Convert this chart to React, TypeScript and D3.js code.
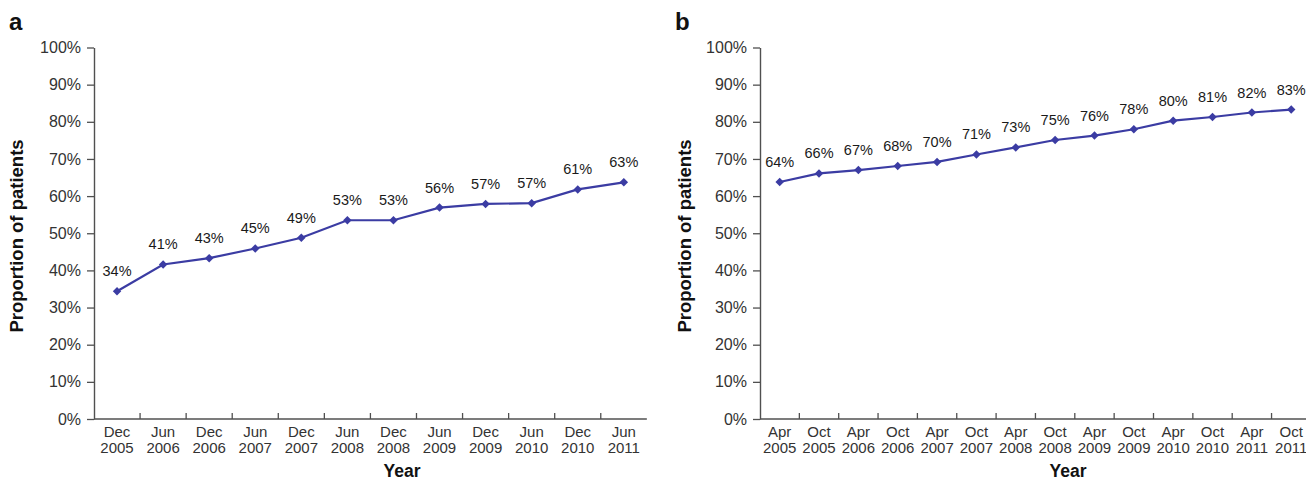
import React, { useEffect, useRef } from 'react';
import * as d3 from 'd3';

// panel a
const catsA = ['Dec 2005', 'Jun 2006', 'Dec 2006', 'Jun 2007', 'Dec 2007', 'Jun 2008',
  'Dec 2008', 'Jun 2009', 'Dec 2009', 'Jun 2010', 'Dec 2010', 'Jun 2011'];
const valsA = [34.4, 41.6, 43.3, 45.9, 48.8, 53.5, 53.5, 56.9, 57.9, 58.1, 61.8, 63.7];
const labelsA = ['34%', '41%', '43%', '45%', '49%', '53%', '53%', '56%', '57%', '57%', '61%', '63%'];

// panel b
const catsB = ['Apr 2005', 'Oct 2005', 'Apr 2006', 'Oct 2006', 'Apr 2007', 'Oct 2007', 'Apr 2008',
  'Oct 2008', 'Apr 2009', 'Oct 2009', 'Apr 2010', 'Oct 2010', 'Apr 2011', 'Oct 2011'];
const valsB = [63.8, 66.1, 67.0, 68.1, 69.2, 71.2, 73.1, 75.1, 76.3, 78.0, 80.3, 81.3, 82.5, 83.3];
const labelsB = ['64%', '66%', '67%', '68%', '70%', '71%', '73%', '75%', '76%', '78%', '80%', '81%', '82%', '83%'];

const yTicks = [0, 10, 20, 30, 40, 50, 60, 70, 80, 90, 100];

const FONT = '"Liberation Sans", Arial, Helvetica, sans-serif';
const LINE = '#3b3ca3';
const AXIS = '#505050';

const drawPanel = (svg, o) => {
  const g = svg.append('g');
  const y = d3.scaleLinear().domain([0, 100]).range([419, 47.5]);
  const x = d3.scaleBand().domain(o.cats).range([o.left, o.left + o.step * o.cats.length]).padding(0);
  const cx = c => x(c) + x.bandwidth() / 2;

  // panel letter
  g.append('text').attr('x', o.letterX).attr('y', 30)
    .attr('font-size', 24).attr('font-weight', 'bold').attr('fill', '#111').text(o.letter);

  // y axis
  const ya = g.append('g').attr('transform', 'translate(' + o.left + ',0)')
    .call(d3.axisLeft(y).tickValues(yTicks).tickSize(7).tickSizeOuter(0).tickPadding(6)
      .tickFormat(d => d + '%'));
  ya.select('.domain').attr('stroke', AXIS).attr('stroke-width', 1.4);
  ya.selectAll('.tick line').attr('stroke', AXIS).attr('stroke-width', 1.3);
  ya.selectAll('.tick text').attr('font-size', 16).attr('fill', '#333').attr('font-family', FONT);

  // y title
  g.append('text')
    .attr('transform', 'translate(' + o.titleX + ',236) rotate(-90)')
    .attr('text-anchor', 'middle').attr('font-size', 18.5).attr('font-weight', 'bold')
    .attr('fill', '#111').text('Proportion of patients');

  // x axis
  const [x0, x1] = x.range();
  g.append('line').attr('x1', x0).attr('x2', x1).attr('y1', y(0)).attr('y2', y(0))
    .attr('stroke', AXIS).attr('stroke-width', 1.4);
  g.selectAll('.xt').data(o.cats.slice(0, -1)).enter().append('line')
    .attr('x1', d => x(d) + x.bandwidth()).attr('x2', d => x(d) + x.bandwidth())
    .attr('y1', y(0)).attr('y2', y(0) - 6).attr('stroke', AXIS).attr('stroke-width', 1.3);
  const xl = g.selectAll('.xl').data(o.cats).enter().append('text')
    .attr('text-anchor', 'middle').attr('font-size', 15).attr('fill', '#333');
  xl.append('tspan').attr('x', d => cx(d)).attr('y', 437).text(d => d.split(' ')[0]);
  xl.append('tspan').attr('x', d => cx(d)).attr('y', 453).text(d => d.split(' ')[1]);

  g.append('text').attr('x', o.yearX).attr('y', 477).attr('text-anchor', 'middle')
    .attr('font-size', 17.5).attr('font-weight', 'bold').attr('fill', '#111').text('Year');

  // line
  const pts = o.vals.map((v, i) => ({ c: o.cats[i], v, l: o.labels[i] }));
  g.append('path').datum(pts)
    .attr('d', d3.line().x(d => cx(d.c)).y(d => y(d.v)))
    .attr('fill', 'none').attr('stroke', LINE).attr('stroke-width', 2.2);
  g.selectAll('.pt').data(pts).enter().append('path')
    .attr('d', d3.symbol().type(d3.symbolSquare).size(36))
    .attr('transform', d => 'translate(' + cx(d.c) + ',' + y(d.v) + ') rotate(45)')
    .attr('fill', LINE);
  g.selectAll('.lb').data(pts).enter().append('text')
    .attr('x', d => cx(d.c)).attr('y', d => y(d.v) - 15)
    .attr('text-anchor', 'middle').attr('font-size', 14.5).attr('fill', '#1a1a1a').text(d => d.l);
};

const App = () => {
  const ref = useRef(null);

  useEffect(() => {
    const svg = d3.select(ref.current);
    svg.selectAll('*').remove();
    drawPanel(svg, { cats: catsA, vals: valsA, labels: labelsA, left: 94, step: 46.07,
      letter: 'a', letterX: 9, titleX: 23, yearX: 402 });
    drawPanel(svg, { cats: catsB, vals: valsB, labels: labelsB, left: 760, step: 39.35,
      letter: 'b', letterX: 675, titleX: 691, yearX: 1068 });
  }, []);

  return (
    <svg ref={ref} width={1306} height={483} fontFamily={FONT}
      style={{ position: 'absolute', left: 0, top: 0, background: '#fff' }} />
  );
};

export default App;
